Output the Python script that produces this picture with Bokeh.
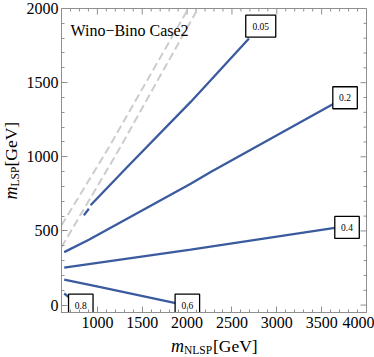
import math
from bokeh.plotting import figure
from bokeh.models import FixedTicker, LinearAxis, Label
from bokeh.layouts import row, column
from bokeh.core.properties import value
from bokeh.embed import file_html
from bokeh.resources import INLINE

# ---- data (m_NLSP, m_LSP in GeV) ----
c005a_x = [849, 905]
c005a_y = [605, 650]
c005_x = [924, 1333, 2040, 2263, 2690]
c005_y = [673, 931, 1370, 1516, 1798]
c02_x = [630, 905, 2040, 2263, 3639]
c02_y = [357, 441, 819, 897, 1359]
c04_x = [630, 2040, 3647]
c04_y = [252, 374, 520]
c06_x = [630, 1035, 1872]
c06_y = [172, 121, 13]
c08_x = [630, 681, 710]
c08_y = [78, 54, 42]

d1_x = [600, 1110, 2014]
d1_y = [538, 1045, 2000]
d2_x = [600, 1236, 2121]
d2_y = [391, 1044, 2000]

label_text = ["0.05", "0.2", "0.4", "0.6", "0.8"]
label_x = [2821, 3761, 3783, 2003, 815]
label_y = [1881, 1398, 524, 0, 0]

x_ticks = [1000, 1500, 2000, 2500, 3000, 3500, 4000]
y_ticks = [0, 500, 1000, 1500, 2000]
x_minor = [v for v in range(600, 4001, 100) if v not in x_ticks]
y_minor = [v for v in range(0, 2001, 100) if v not in y_ticks]

title_text = "Wino\u2212Bino Case2"
x_title = ["m", "NLSP", "[GeV]"]
y_title = ["m", "LSP", "[GeV]"]

X_RANGE = (600, 4000)
Y_RANGE = (-50, 2000)

FRAME_COL = "#8f8f8f"
SERIF = "Liberation Serif"
BLUE = "#3b5b9f"

BL, BR, BT, BB = 41, 8, 8, 22

# ---- main figure ----
MW, MH = 354, 334
p = figure(width=MW, height=MH, x_range=X_RANGE, y_range=Y_RANGE,
           output_backend="svg", toolbar_location=None, title=None,
           min_border_left=BL, min_border_right=BR, min_border_top=BT, min_border_bottom=BB,
           x_axis_location=None, y_axis_location=None)
p.grid.visible = False
p.background_fill_color = "white"
p.border_fill_color = "white"
p.outline_line_color = FRAME_COL
p.outline_line_width = 1


def make_axis(ticks, minor, standoff):
    ax = LinearAxis(ticker=FixedTicker(ticks=ticks, minor_ticks=minor))
    ax.axis_line_color = FRAME_COL
    ax.major_tick_line_color = FRAME_COL
    ax.minor_tick_line_color = FRAME_COL
    ax.major_tick_in = 6
    ax.major_tick_out = 0
    ax.minor_tick_in = 3
    ax.minor_tick_out = 0
    ax.major_label_text_font = SERIF
    ax.major_label_text_color = "black"
    ax.major_label_text_font_size = "16px"
    ax.major_label_standoff = standoff
    return ax


p.add_layout(make_axis(x_ticks, x_minor, 4), "below")
p.add_layout(make_axis(y_ticks, y_minor, 3), "left")

# inward ticks on top and right frame edges (outer halves are clipped by the frame)
p.scatter(x_ticks, [Y_RANGE[1]] * len(x_ticks), marker="dash", angle=math.pi / 2, size=12,
          line_color=FRAME_COL, line_width=1)
p.scatter(x_minor, [Y_RANGE[1]] * len(x_minor), marker="dash", angle=math.pi / 2, size=6,
          line_color=FRAME_COL, line_width=1)
p.scatter([X_RANGE[1]] * len(y_ticks), y_ticks, marker="dash", size=12,
          line_color=FRAME_COL, line_width=1)
p.scatter([X_RANGE[1]] * len(y_minor), y_minor, marker="dash", size=6,
          line_color=FRAME_COL, line_width=1)

# dashed lines
for xs, ys in [(d1_x, d1_y), (d2_x, d2_y)]:
    p.line(xs, ys, line_color="#cccccc", line_width=2, line_dash="8 4")

for xs, ys in [(c005a_x, c005a_y), (c005_x, c005_y), (c02_x, c02_y),
               (c04_x, c04_y), (c06_x, c06_y), (c08_x, c08_y)]:
    p.line(xs, ys, line_color=BLUE, line_width=2.3)

# contour labels
widths = [8 + 5.5 * len(t) for t in label_text]
p.rect(x=label_x, y=label_y, width=widths, height=[22] * len(label_text),
       width_units="screen", height_units="screen",
       fill_color="white", line_color="black", line_width=1.3)
p.text(x=label_x, y=label_y, text=label_text, text_align="center",
       text_baseline="middle", text_font=value(SERIF), text_font_size="9.5px",
       text_color="black")

p.add_layout(Label(x=700, y=1853, text=title_text, text_font=SERIF,
                   text_font_size="16px", text_color="black",
                   text_baseline="alphabetic"))

# ---- axis titles in thin side figures ----
XH = 357 - MH
YW = 374 - MW

xf = figure(width=MW, height=XH, x_range=X_RANGE, y_range=(0, XH),
            output_backend="svg", toolbar_location=None, title=None,
            min_border_left=BL, min_border_right=BR, min_border_top=0, min_border_bottom=0,
            x_axis_location=None, y_axis_location=None)
yf = figure(width=YW, height=MH, x_range=(0, YW), y_range=Y_RANGE,
            output_backend="svg", toolbar_location=None, title=None,
            min_border_left=0, min_border_right=0, min_border_top=BT, min_border_bottom=BB,
            x_axis_location=None, y_axis_location=None)
for f in (xf, yf):
    f.grid.visible = False
    f.outline_line_color = None
    f.background_fill_color = "white"
    f.border_fill_color = "white"

xc = (X_RANGE[0] + X_RANGE[1]) / 2
yc = (Y_RANGE[0] + Y_RANGE[1]) / 2
bl = 12
common = dict(text_baseline="alphabetic", text_align="left", text_color="black",
              text_font=value(SERIF))
xf.text(x=[xc], y=[bl], text=[x_title[0]], x_offset=-43, text_font_style="italic",
        text_font_size="18px", **common)
xf.text(x=[xc], y=[bl], text=[x_title[1]], x_offset=-30, y_offset=4,
        text_font_size="11.5px", **common)
xf.text(x=[xc], y=[bl], text=[x_title[2]], x_offset=-1,
        text_font_size="17.5px", **common)

bx = 10
rot = math.pi / 2
yf.text(x=[bx], y=[yc], text=[y_title[0]], angle=rot, y_offset=39, text_font_style="italic",
        text_font_size="18px", **common)
yf.text(x=[bx], y=[yc], text=[y_title[1]], angle=rot, x_offset=4, y_offset=26,
        text_font_size="11.5px", **common)
yf.text(x=[bx], y=[yc], text=[y_title[2]], angle=rot, y_offset=6,
        text_font_size="17.5px", **common)

layout = row(yf, column(p, xf))
open("out.html", "w").write(file_html(layout, INLINE))
